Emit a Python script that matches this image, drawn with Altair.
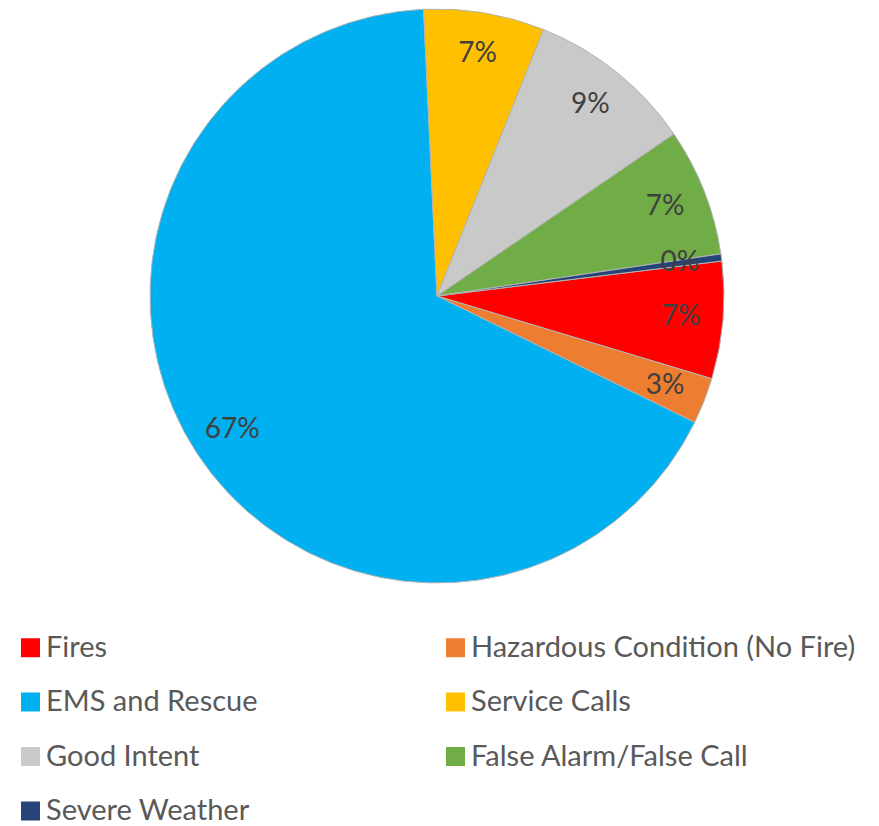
import math
import altair as alt
import pandas as pd

categories = ["Fires", "Hazardous Condition (No Fire)", "EMS and Rescue", "Service Calls",
              "Good Intent", "False Alarm/False Call", "Severe Weather"]
shares = [6.6, 2.6, 67.0, 6.8, 9.4, 7.2, 0.4]
labels = ["7%", "3%", "67%", "7%", "9%", "7%", "0%"]
colors = ["#ff0000", "#ed7d31", "#00b0f0", "#ffc000", "#c9c9c9", "#70ad47", "#264478"]

df = pd.DataFrame({"category": categories, "share": shares, "label": labels,
                   "idx": list(range(len(categories)))})

start = math.radians(83.0)
theta = alt.Theta("share:Q", stack=True,
                  scale=alt.Scale(range=[start, start + 2 * math.pi]))
base = alt.Chart(df).encode(theta=theta, order=alt.Order("idx:Q"))

pie = base.mark_arc(outerRadius=287, stroke="#b4b4b4", strokeWidth=1).encode(
    color=alt.Color(
        "category:N",
        scale=alt.Scale(domain=categories, range=colors),
        sort=categories,
        legend=alt.Legend(
            title=None, orient="none", legendX=8, legendY=625, columns=2,
            direction="horizontal",
            symbolType="square", symbolSize=360, symbolStrokeWidth=0,
            labelFontSize=29, labelFont="Lato", labelColor="#595959",
            rowPadding=24.5, columnPadding=183, labelOffset=1, labelLimit=600,
        ),
    )
)

text = base.mark_text(radius=245, fontSize=28, font="Lato", color="#404040").encode(
    text="label:N"
)

chart = (
    (pie + text)
    .properties(width=858, height=576, autosize="none",
                padding={"left": 0, "right": 5, "top": 0, "bottom": 242},
                background="white")
    .configure_view(stroke=None)
)

chart.save("out.html", embed_options={"renderer": "svg", "actions": False})
